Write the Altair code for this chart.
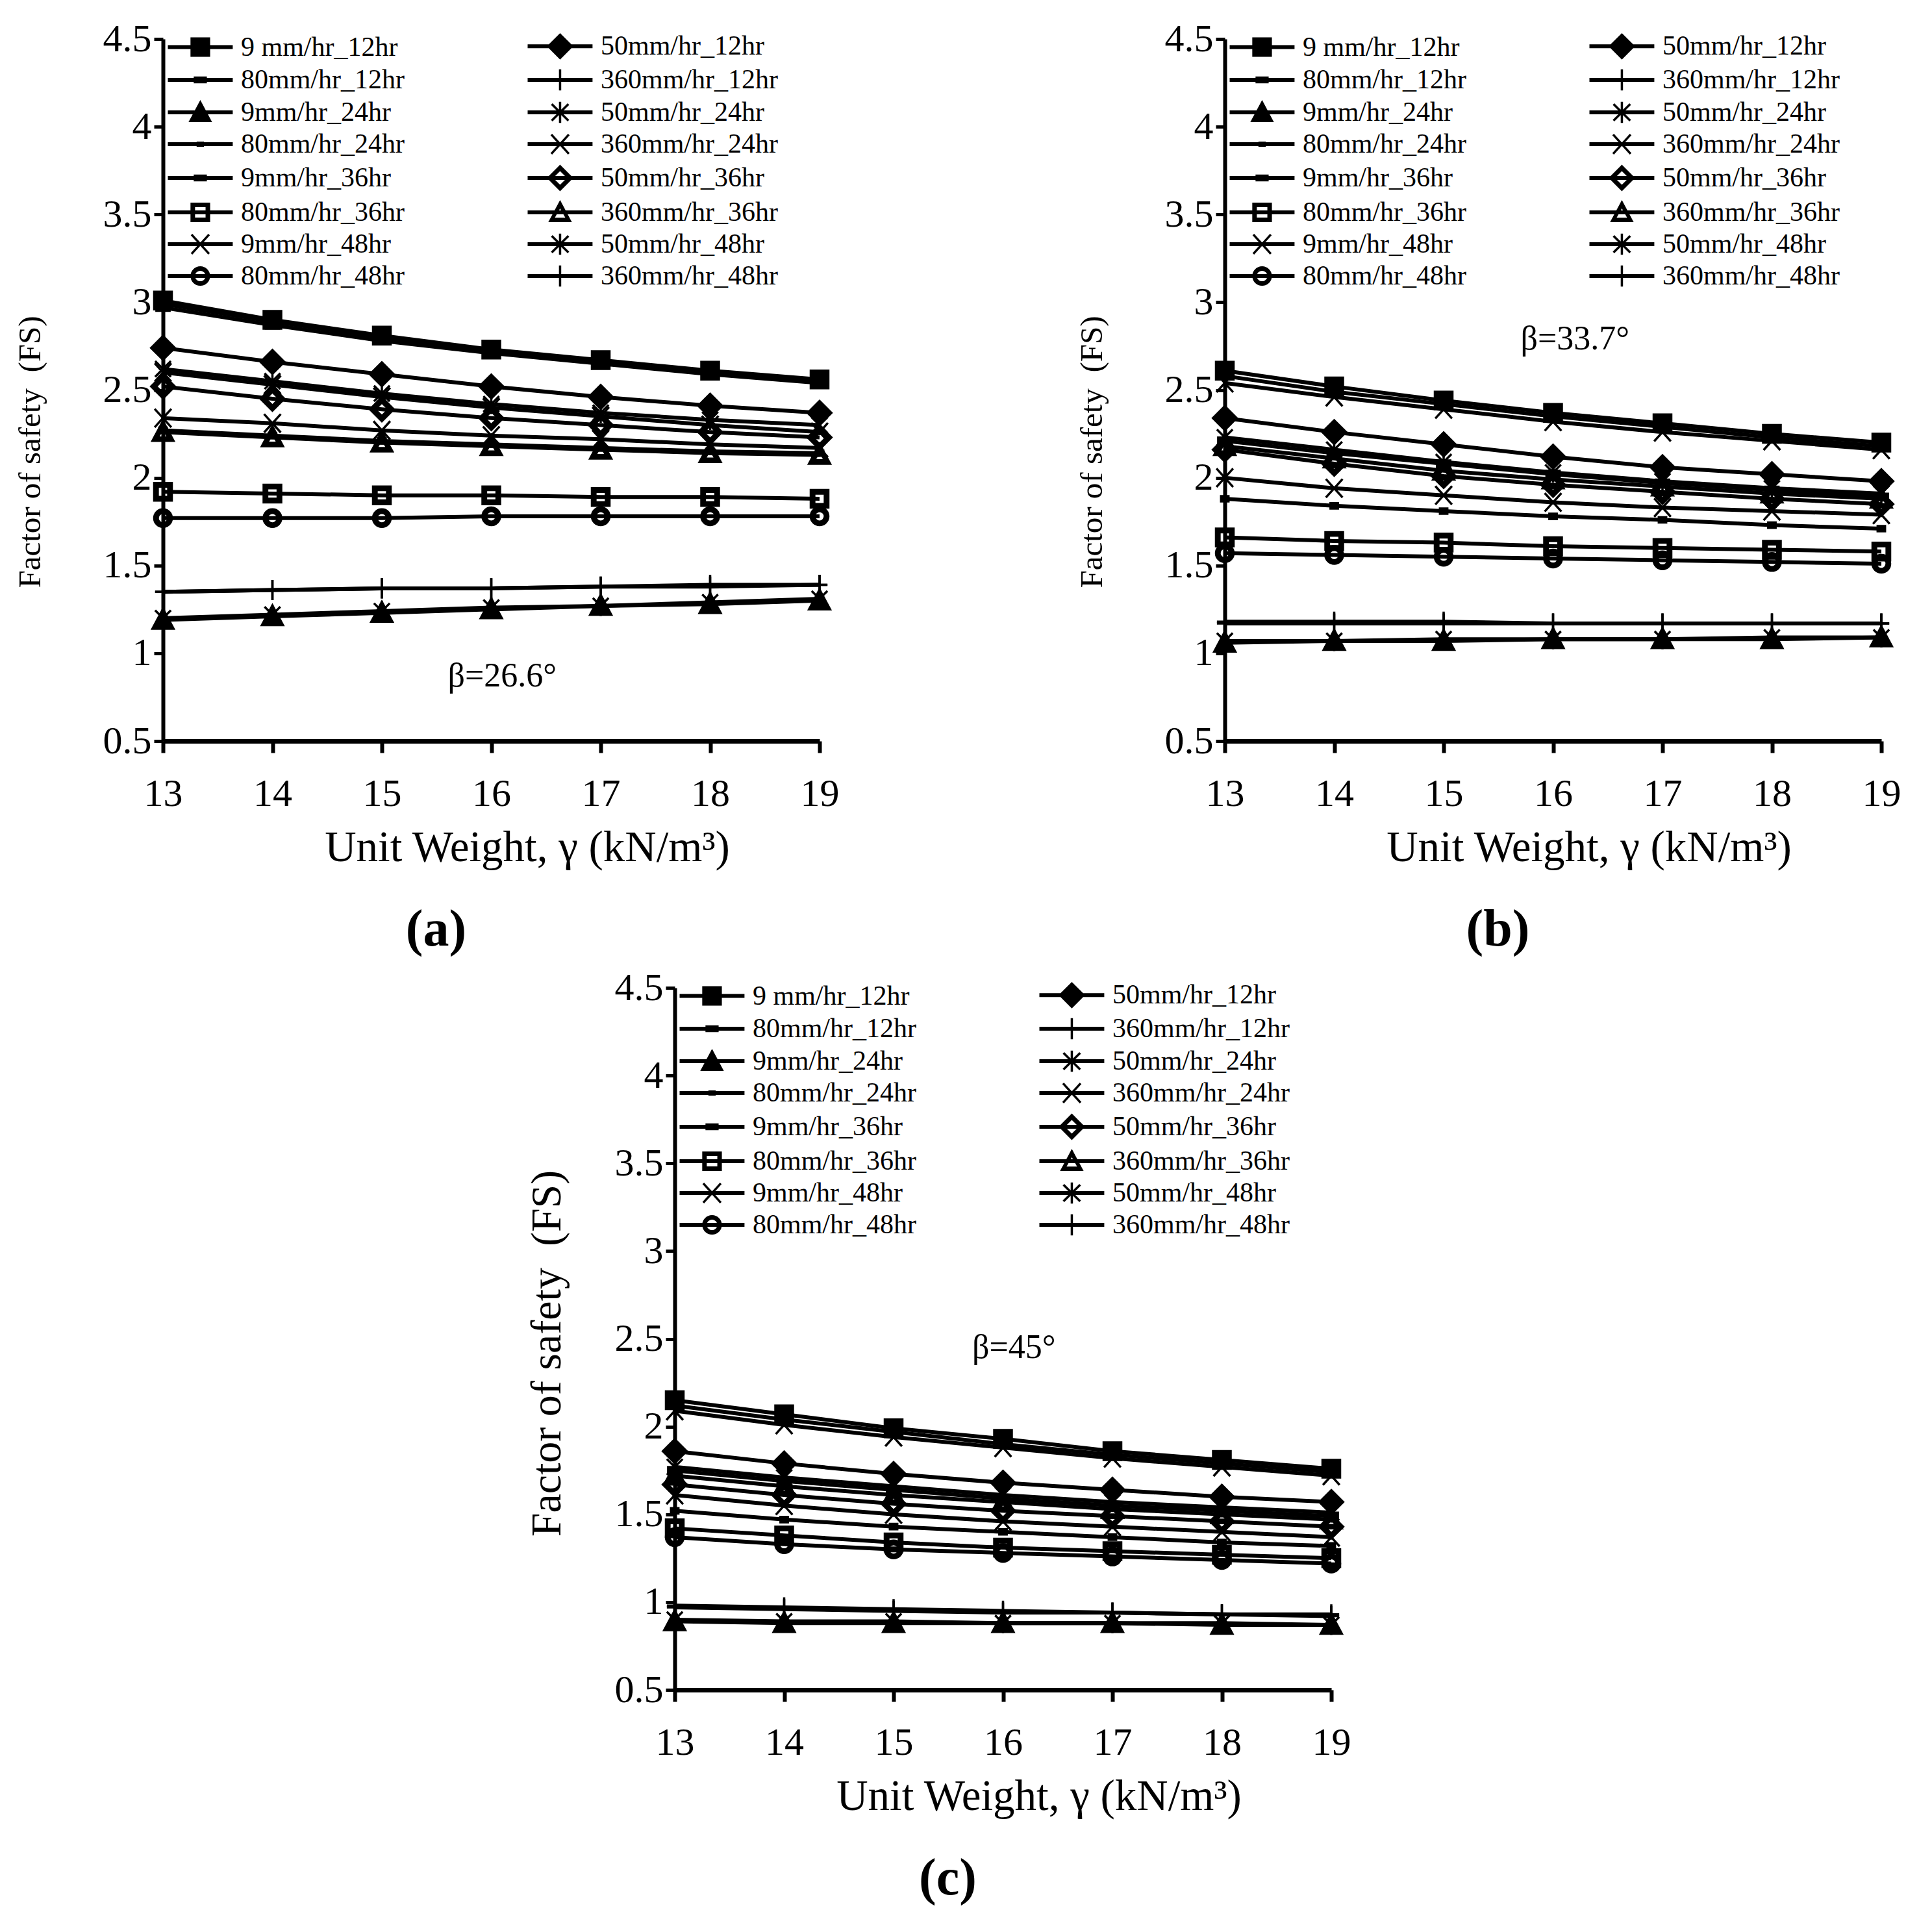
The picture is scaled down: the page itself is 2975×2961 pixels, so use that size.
import altair as alt
import pandas as pd

FONT = "Liberation Serif"

X_VALUES = [13, 14, 15, 16, 17, 18, 19]
X_TICKS = [13, 14, 15, 16, 17, 18, 19]
Y_TICKS = [0.5, 1, 1.5, 2, 2.5, 3, 3.5, 4, 4.5]
X_TITLE = "Unit Weight, \u03b3 (kN/m\u00b3)"
Y_TITLE = "Factor of safety \u00a0(FS)"

SERIES = ["9 mm/hr_12hr", "50mm/hr_12hr", "80mm/hr_12hr", "360mm/hr_12hr",
          "9mm/hr_24hr", "50mm/hr_24hr", "80mm/hr_24hr", "360mm/hr_24hr",
          "9mm/hr_36hr", "50mm/hr_36hr", "80mm/hr_36hr", "360mm/hr_36hr",
          "9mm/hr_48hr", "50mm/hr_48hr", "80mm/hr_48hr", "360mm/hr_48hr"]

MARKERS = ["square", "diamond", "dash", "plus",
           "triangle", "asterisk", "smalldash", "x",
           "dash", "odiamond", "osquare", "otriangle",
           "x", "asterisk", "ocircle", "plus"]

# ---- panel (a): beta = 26.6 deg ----
FS_A = {
    "9 mm/hr_12hr":  [3.01, 2.90, 2.81, 2.73, 2.67, 2.61, 2.56],
    "50mm/hr_12hr":  [2.74, 2.66, 2.59, 2.52, 2.46, 2.41, 2.37],
    "80mm/hr_12hr":  [2.99, 2.89, 2.80, 2.72, 2.66, 2.60, 2.55],
    "360mm/hr_12hr": [1.35, 1.36, 1.37, 1.37, 1.38, 1.39, 1.39],
    "9mm/hr_24hr":   [1.19, 1.21, 1.23, 1.25, 1.27, 1.28, 1.30],
    "50mm/hr_24hr":  [2.62, 2.55, 2.48, 2.42, 2.37, 2.33, 2.30],
    "80mm/hr_24hr":  [2.27, 2.24, 2.21, 2.19, 2.17, 2.15, 2.14],
    "360mm/hr_24hr": [2.60, 2.53, 2.46, 2.40, 2.35, 2.30, 2.26],
    "9mm/hr_36hr":   [2.97, 2.87, 2.78, 2.71, 2.65, 2.59, 2.54],
    "50mm/hr_36hr":  [2.52, 2.45, 2.39, 2.34, 2.30, 2.26, 2.23],
    "80mm/hr_36hr":  [1.92, 1.91, 1.90, 1.90, 1.89, 1.89, 1.88],
    "360mm/hr_36hr": [2.26, 2.23, 2.20, 2.18, 2.16, 2.14, 2.13],
    "9mm/hr_48hr":   [2.34, 2.31, 2.27, 2.24, 2.22, 2.19, 2.17],
    "50mm/hr_48hr":  [1.20, 1.22, 1.24, 1.26, 1.27, 1.29, 1.31],
    "80mm/hr_48hr":  [1.77, 1.77, 1.77, 1.78, 1.78, 1.78, 1.78],
    "360mm/hr_48hr": [1.35, 1.36, 1.37, 1.37, 1.38, 1.38, 1.39],
}

# ---- panel (b): beta = 33.7 deg ----
FS_B = {
    "9 mm/hr_12hr":  [2.61, 2.52, 2.44, 2.37, 2.31, 2.25, 2.20],
    "50mm/hr_12hr":  [2.34, 2.26, 2.19, 2.12, 2.06, 2.02, 1.98],
    "80mm/hr_12hr":  [2.21, 2.14, 2.08, 2.02, 1.97, 1.93, 1.89],
    "360mm/hr_12hr": [1.17, 1.17, 1.17, 1.17, 1.17, 1.17, 1.17],
    "9mm/hr_24hr":   [1.06, 1.07, 1.07, 1.08, 1.08, 1.08, 1.09],
    "50mm/hr_24hr":  [2.23, 2.16, 2.09, 2.03, 1.98, 1.94, 1.91],
    "80mm/hr_24hr":  [1.88, 1.84, 1.81, 1.78, 1.76, 1.73, 1.71],
    "360mm/hr_24hr": [2.00, 1.94, 1.90, 1.86, 1.83, 1.81, 1.79],
    "9mm/hr_36hr":   [2.58, 2.49, 2.42, 2.35, 2.29, 2.23, 2.18],
    "50mm/hr_36hr":  [2.16, 2.08, 2.01, 1.96, 1.92, 1.88, 1.85],
    "80mm/hr_36hr":  [1.66, 1.64, 1.63, 1.61, 1.60, 1.59, 1.58],
    "360mm/hr_36hr": [2.18, 2.11, 2.04, 1.99, 1.95, 1.91, 1.88],
    "9mm/hr_48hr":   [2.54, 2.46, 2.39, 2.32, 2.26, 2.21, 2.16],
    "50mm/hr_48hr":  [1.07, 1.07, 1.08, 1.08, 1.08, 1.09, 1.09],
    "80mm/hr_48hr":  [1.57, 1.56, 1.55, 1.54, 1.53, 1.52, 1.51],
    "360mm/hr_48hr": [1.18, 1.18, 1.18, 1.17, 1.17, 1.17, 1.17],
}

# ---- panel (c): beta = 45 deg ----
FS_C = {
    "9 mm/hr_12hr":  [2.15, 2.07, 1.99, 1.93, 1.86, 1.81, 1.76],
    "50mm/hr_12hr":  [1.86, 1.79, 1.73, 1.68, 1.64, 1.60, 1.57],
    "80mm/hr_12hr":  [1.75, 1.69, 1.64, 1.59, 1.55, 1.52, 1.49],
    "360mm/hr_12hr": [0.97, 0.96, 0.95, 0.94, 0.94, 0.93, 0.92],
    "9mm/hr_24hr":   [0.89, 0.88, 0.88, 0.88, 0.88, 0.87, 0.87],
    "50mm/hr_24hr":  [1.77, 1.71, 1.66, 1.61, 1.57, 1.54, 1.51],
    "80mm/hr_24hr":  [1.52, 1.47, 1.43, 1.40, 1.37, 1.34, 1.32],
    "360mm/hr_24hr": [1.61, 1.55, 1.50, 1.46, 1.43, 1.40, 1.37],
    "9mm/hr_36hr":   [2.12, 2.04, 1.97, 1.90, 1.84, 1.79, 1.74],
    "50mm/hr_36hr":  [1.67, 1.61, 1.56, 1.52, 1.49, 1.46, 1.43],
    "80mm/hr_36hr":  [1.42, 1.38, 1.34, 1.31, 1.29, 1.27, 1.25],
    "360mm/hr_36hr": [1.72, 1.66, 1.61, 1.57, 1.53, 1.50, 1.47],
    "9mm/hr_48hr":   [2.09, 2.01, 1.94, 1.88, 1.82, 1.77, 1.72],
    "50mm/hr_48hr":  [0.90, 0.89, 0.89, 0.88, 0.88, 0.88, 0.87],
    "80mm/hr_48hr":  [1.37, 1.33, 1.30, 1.28, 1.26, 1.24, 1.22],
    "360mm/hr_48hr": [0.98, 0.97, 0.96, 0.95, 0.94, 0.93, 0.93],
}

PANEL_TAGS = ["(a)", "(b)", "(c)"]
BETA_TEXT = ["\u03b2=26.6\u00b0", "\u03b2=33.7\u00b0", "\u03b2=45\u00b0"]
BETA_X = [16.1, 16.2, 16.1]
BETA_Y = [0.87, 2.79, 2.45]

# ---------------- styling ----------------
W, H = 1011, 1081
LINE_W = 6
MARK_SIZE = 729      # unit = sqrt(size)/2 = 13.5 px
STROKE = 3.5

# legend is laid out column by column: left column first, then right column
LEGEND_ORDER = SERIES[0::2] + SERIES[1::2]
MARKER_OF = dict(zip(SERIES, MARKERS))


def area(pts):
    return sum(pts[i][0] * pts[(i + 1) % len(pts)][1] - pts[(i + 1) % len(pts)][0] * pts[i][1]
               for i in range(len(pts))) / 2.0


def poly(pts, cx, positive=True, close=True):
    if close and (area(pts) > 0) != positive:
        pts = list(reversed(pts))
    s = "M" + "L".join(f"{x + cx:.3f},{y:.3f}" for x, y in pts)
    return s + ("Z" if close else "")


def bar(x1, y1, x2, y2, hw, cx):
    dx, dy = x2 - x1, y2 - y1
    n = (dx * dx + dy * dy) ** 0.5
    px, py = -dy / n * hw, dx / n * hw
    return poly([(x1 + px, y1 + py), (x2 + px, y2 + py),
                 (x2 - px, y2 - py), (x1 - px, y1 - py)], cx)


def scaled(pts, k):
    return [(x * k, y * k) for x, y in pts]


SQ = [(-1, -1), (1, -1), (1, 1), (-1, 1)]
DI = [(0, -1.35), (1.35, 0), (0, 1.35), (-1.35, 0)]
TR = [(0, -1.25), (1.2, 1.0), (-1.2, 1.0)]
TR_IN = [(0, -0.45), (-0.6, 0.62), (0.6, 0.62)]


def marker_path(kind, cx=0.0, solid=False):
    # solid=True: everything as filled geometry (legend, no stroke there)
    k = 1.12 if solid else 1.0
    hw = 0.13
    if kind == "square":
        return poly(scaled(SQ, k), cx)
    if kind == "osquare":
        return poly(scaled(SQ, k), cx) + poly(scaled(SQ, 0.6), cx, positive=False)
    if kind == "diamond":
        return poly(scaled(DI, k), cx)
    if kind == "odiamond":
        return poly(scaled(DI, k), cx) + poly(scaled(DI, 0.58), cx, positive=False)
    if kind == "triangle":
        return poly(scaled(TR, k), cx)
    if kind == "otriangle":
        return poly(scaled(TR, k), cx) + poly(TR_IN, cx, positive=False)
    if kind == "ocircle":
        r, ri = 1.0 * k, 0.6
        return (f"M{cx + r:.3f},0A{r},{r},0,1,1,{cx - r:.3f},0A{r},{r},0,1,1,{cx + r:.3f},0Z"
                f"M{cx + ri:.3f},0A{ri},{ri},0,1,0,{cx - ri:.3f},0A{ri},{ri},0,1,0,{cx + ri:.3f},0Z")
    if kind == "dash":
        return poly([(-0.75, -0.38), (0.75, -0.38), (0.75, 0.38), (-0.75, 0.38)], cx)
    if kind == "smalldash":
        return poly([(-0.42, -0.3), (0.42, -0.3), (0.42, 0.3), (-0.42, 0.3)], cx)
    if solid:
        if kind == "plus":
            return bar(0, -1.2, 0, 1.2, hw, cx)
        if kind == "x":
            return bar(-1, -1.1, 1, 1.1, hw, cx) + bar(-1, 1.1, 1, -1.1, hw, cx)
        if kind == "asterisk":
            return (bar(-0.95, -0.95, 0.95, 0.95, hw, cx) + bar(-0.95, 0.95, 0.95, -0.95, hw, cx)
                    + bar(0, -1.2, 0, 1.2, hw, cx))
    if kind == "plus":
        return poly([(-0.9, 0), (0.9, 0)], cx, close=False) + poly([(0, -1.15), (0, 1.15)], cx, close=False)
    if kind == "x":
        return (poly([(-0.95, -1.05), (0.95, 1.05)], cx, close=False)
                + poly([(-0.95, 1.05), (0.95, -1.05)], cx, close=False))
    if kind == "asterisk":
        return (poly([(-0.9, -0.9), (0.9, 0.9)], cx, close=False)
                + poly([(-0.9, 0.9), (0.9, -0.9)], cx, close=False)
                + poly([(0, -1.15), (0, 1.15)], cx, close=False))
    return poly(SQ, cx)


def legend_path(kind):
    # horizontal line segment (filled bar) with the marker in its middle
    return (poly([(-1, -0.22), (6.4, -0.22), (6.4, 0.22), (-1, 0.22)], 0)
            + marker_path(kind, 2.7, solid=True))


POINT_SHAPES = [marker_path(m) for m in MARKERS]
LEGEND_SHAPES = [legend_path(MARKER_OF[s]) for s in LEGEND_ORDER]


def panel(fs, tag, btxt, bx, by, ytitle_size, ytitle_y, ytitle_pad):
    rows = []
    for s in SERIES:
        for xv, yv in zip(X_VALUES, fs[s]):
            rows.append({"series": s, "x": xv, "fs": yv})
    df = pd.DataFrame(rows)

    xenc = alt.X("x:Q",
                 scale=alt.Scale(domain=[13, 19], nice=False, zero=False),
                 axis=alt.Axis(values=X_TICKS, title=X_TITLE, format="d",
                               labelFontSize=60, titleFontSize=67,
                               labelPadding=34, titlePadding=20,
                               titleX=W / 2 + 55, labelFlush=False,
                               tickSize=18, tickWidth=6, domainWidth=7))
    yenc = alt.Y("fs:Q",
                 scale=alt.Scale(domain=[0.5, 4.5], nice=False, zero=False),
                 axis=alt.Axis(values=Y_TICKS, title=Y_TITLE, format="~g",
                               labelFontSize=60, titleFontSize=ytitle_size,
                               labelPadding=4, titlePadding=ytitle_pad,
                               titleY=ytitle_y, labelFlush=False,
                               tickSize=14, tickWidth=5, domainWidth=6))

    base = alt.Chart(df)
    lines = base.mark_line(stroke="black", strokeWidth=LINE_W).encode(
        x=xenc, y=yenc, detail="series:N", order="x:Q")
    pts = base.mark_point(filled=True, fill="black", stroke="black",
                          strokeWidth=STROKE, size=MARK_SIZE, opacity=1).encode(
        x=xenc, y=yenc,
        shape=alt.Shape("series:N",
                        scale=alt.Scale(domain=SERIES, range=POINT_SHAPES),
                        legend=None))
    leg = base.transform_filter("datum.x < 0").mark_point(
        filled=True, fill="black", size=MARK_SIZE, opacity=1).encode(
        x=xenc, y=yenc,
        shape=alt.Shape("series:N",
                        scale=alt.Scale(domain=LEGEND_ORDER, range=LEGEND_SHAPES),
                        legend=alt.Legend(title=None, orient="none",
                                          legendX=0, legendY=-10,
                                          columns=2, columnPadding=182,
                                          rowPadding=7,
                                          symbolSize=MARK_SIZE,
                                          symbolFillColor="black",
                                          labelOffset=78,
                                          labelFont=FONT, labelFontSize=42,
                                          labelColor="black",
                                          labelLimit=1000)))
    bdf = pd.DataFrame({"x": [bx], "fs": [by], "t": [btxt]})
    beta = alt.Chart(bdf).mark_text(font=FONT, fontSize=52, color="black",
                                    align="center", baseline="middle").encode(
        x=xenc, y=yenc, text="t:N")

    return alt.layer(lines, pts, leg, beta).resolve_scale(
        shape="independent").properties(
        width=W, height=H,
        title=alt.TitleParams(tag, orient="bottom", fontSize=80,
                              fontWeight="bold", font=FONT, color="black",
                              offset=55, dx=-85))


pa = panel(FS_A, PANEL_TAGS[0], BETA_TEXT[0], BETA_X[0], BETA_Y[0], 49, H / 2 + 95, 87)
pb = panel(FS_B, PANEL_TAGS[1], BETA_TEXT[1], BETA_X[1], BETA_Y[1], 49, H / 2 + 95, 87)
pc = panel(FS_C, PANEL_TAGS[2], BETA_TEXT[2], BETA_X[2], BETA_Y[2], 66, H / 2 + 22, 70)

spacer = alt.Chart(pd.DataFrame({"v": [0]})).mark_point(opacity=0).encode(
    x=alt.value(0), y=alt.value(0)).properties(width=538, height=10)

row1 = alt.hconcat(pa, pb, spacing=365)
row2 = alt.hconcat(spacer, pc, spacing=20)

chart = alt.vconcat(row1, row2, spacing=19).properties(
    padding={"left": 14, "top": 22, "right": 5, "bottom": 5}
).configure_view(strokeOpacity=0).configure_axis(
    labelFont=FONT, titleFont=FONT, labelColor="black", titleColor="black",
    domainColor="black", tickColor="black", grid=False,
    titleFontWeight="normal"
).configure_title(font=FONT)

chart.save("out.html", embed_options={"renderer": "svg", "actions": False})
